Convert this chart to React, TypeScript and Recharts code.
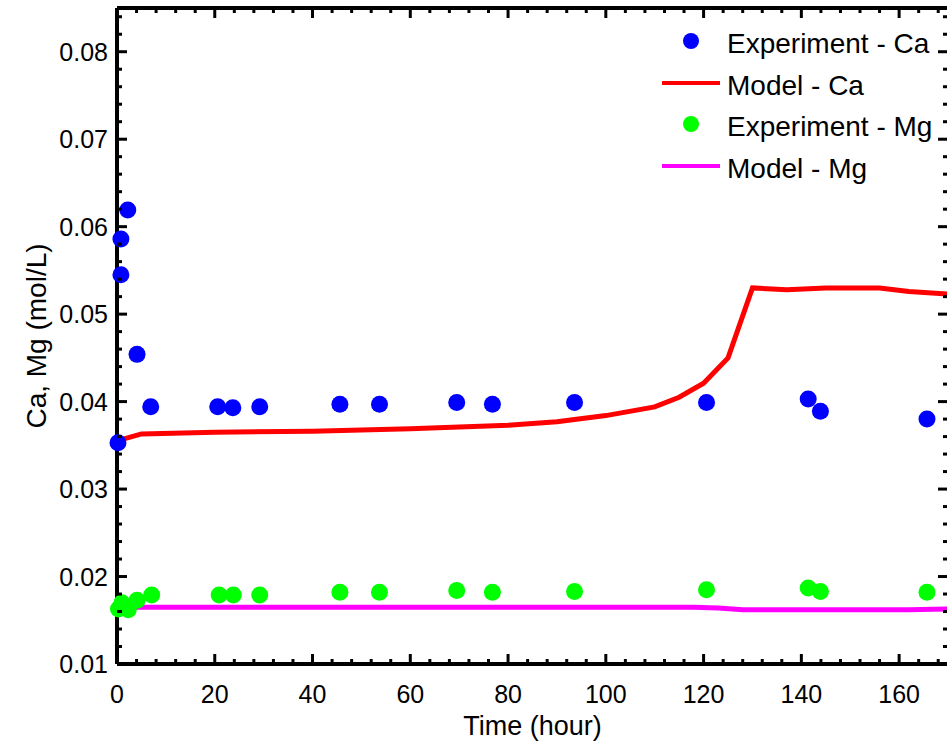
import React from "react";
import { ComposedChart, Scatter, Line, XAxis, YAxis, Legend } from "recharts";

// ---- data ----
const expCaX = [0.2, 0.8, 0.8, 2.2, 4.1, 6.9, 20.6, 23.7, 29.2, 45.6, 53.7, 69.5, 76.8, 93.6, 120.6, 141.4, 143.9, 165.7];
const expCaY = [0.0353, 0.0545, 0.0586, 0.0619, 0.0454, 0.0394, 0.0394, 0.0393, 0.0394, 0.0397, 0.0397, 0.0399, 0.0397, 0.0399, 0.0399, 0.0403, 0.0389, 0.0380];

const expMgX = [0.3, 1.0, 2.3, 4.1, 7.1, 20.9, 23.8, 29.2, 45.6, 53.7, 69.5, 76.8, 93.6, 120.6, 141.4, 143.9, 165.7];
const expMgY = [0.0163, 0.0170, 0.0162, 0.0173, 0.0179, 0.0179, 0.0179, 0.0179, 0.0182, 0.0182, 0.0184, 0.0182, 0.0183, 0.0185, 0.0187, 0.0183, 0.0182];

const modelCaX = [0, 5, 20, 40, 60, 80, 90, 100, 110, 115, 120, 125, 130, 137, 145, 156, 162, 170];
const modelCaY = [0.0355, 0.0363, 0.0365, 0.0366, 0.0369, 0.0373, 0.0377, 0.0384, 0.0394, 0.0405, 0.0421, 0.0450, 0.0530, 0.0528, 0.0530, 0.0530, 0.0526, 0.0523];

const modelMgX = [0, 118, 123, 128, 162, 170];
const modelMgY = [0.0165, 0.0165, 0.0164, 0.0162, 0.0162, 0.0163];

const xMajorTicks = [0, 20, 40, 60, 80, 100, 120, 140, 160];
const xAllTicks = [0, 4, 8, 12, 16, 20, 24, 28, 32, 36, 40, 44, 48, 52, 56, 60, 64, 68, 72, 76, 80, 84, 88, 92, 96, 100, 104, 108, 112, 116, 120, 124, 128, 132, 136, 140, 144, 148, 152, 156, 160, 164, 168];
const yMajorTicks = ["0.01", "0.02", "0.03", "0.04", "0.05", "0.06", "0.07", "0.08"];
const yAllTicks = [0.01, 0.012, 0.014, 0.016, 0.018, 0.02, 0.022, 0.024, 0.026, 0.028, 0.03, 0.032, 0.034, 0.036, 0.038, 0.04, 0.042, 0.044, 0.046, 0.048, 0.05, 0.052, 0.054, 0.056, 0.058, 0.06, 0.062, 0.064, 0.066, 0.068, 0.07, 0.072, 0.074, 0.076, 0.078, 0.08, 0.082, 0.084];

const legendNames = ["Experiment - Ca", "Model - Ca", "Experiment - Mg", "Model - Mg"];
const legendColors = ["#0000FF", "#FF0000", "#00FF00", "#FF00FF"];
const legendKinds = ["dot", "line", "dot", "line"];

const expCa = expCaX.map((x, i) => ({ x, y: expCaY[i] }));
const expMg = expMgX.map((x, i) => ({ x, y: expMgY[i] }));
const modelCa = modelCaX.map((x, i) => ({ x, y: modelCaY[i] }));
const modelMg = modelMgX.map((x, i) => ({ x, y: modelMgY[i] }));

const FONT = "'Liberation Sans', Arial, Helvetica, sans-serif";
const MAJOR = 10;
const MINOR = 5;

const isXMajor = (v: number) => xMajorTicks.includes(v);
const isYMajor = (v: number) => Math.abs(v * 100 - Math.round(v * 100)) < 1e-6 && yMajorTicks.includes(v.toFixed(2));

const BottomTick = (p: any) => {
  const v = p.payload.value;
  const major = isXMajor(v);
  return (
    <g>
      <line x1={p.x} y1={p.y} x2={p.x} y2={p.y - (major ? MAJOR : MINOR)} stroke="#000" strokeWidth={3} />
      {major && (
        <text x={p.x} y={p.y + 39} textAnchor="middle" fontSize={25} fontFamily={FONT} fill="#000">
          {String(v)}
        </text>
      )}
    </g>
  );
};
const TopTick = (p: any) => {
  const major = isXMajor(p.payload.value);
  return <line x1={p.x} y1={p.y} x2={p.x} y2={p.y + (major ? MAJOR : MINOR)} stroke="#000" strokeWidth={3} />;
};
const LeftTick = (p: any) => {
  const v = p.payload.value;
  const major = isYMajor(v);
  return (
    <g>
      <line x1={p.x} y1={p.y} x2={p.x + (major ? MAJOR : MINOR)} y2={p.y} stroke="#000" strokeWidth={3} />
      {major && (
        <text x={p.x - 9} y={p.y + 9} textAnchor="end" fontSize={25} fontFamily={FONT} fill="#000">
          {v.toFixed(2)}
        </text>
      )}
    </g>
  );
};
const RightTick = (p: any) => {
  const major = isYMajor(p.payload.value);
  return <line x1={p.x} y1={p.y} x2={p.x - (major ? MAJOR : MINOR)} y2={p.y} stroke="#000" strokeWidth={3} />;
};

const dot = (color: string) => (p: any) => <circle cx={p.cx} cy={p.cy} r={8.5} fill={color} />;

const LegendBox = () => (
  <div style={{ fontFamily: FONT }}>
    {legendNames.map((n, i) => (
      <div key={n} style={{ display: "flex", alignItems: "center", height: 41.7 }}>
        <svg width={62} height={30} style={{ display: "block" }}>
          {legendKinds[i] === "dot" ? (
            <circle cx={31} cy={12} r={8} fill={legendColors[i]} />
          ) : (
            <line x1={2} y1={12} x2={60} y2={12} stroke={legendColors[i]} strokeWidth={4} />
          )}
        </svg>
        <span style={{ marginLeft: 5, fontSize: 28, color: "#000", lineHeight: "30px" }}>{n}</span>
      </div>
    ))}
  </div>
);

export default function App() {
  return (
    <div style={{ position: "absolute", left: 0, top: 0, width: 947, height: 743, overflow: "hidden", background: "#fff" }}>
      <ComposedChart width={952} height={743} margin={{ top: 7, right: 3, bottom: 78, left: 116 }}>
        <XAxis
          xAxisId="b"
          type="number"
          dataKey="x"
          orientation="bottom"
          domain={[0, 170]}
          ticks={xAllTicks}
          interval={0}
          tickLine={false}
          tickSize={0}
          tickMargin={0}
          height={1}
          axisLine={{ stroke: "#000", strokeWidth: 4 }}
          tick={BottomTick}
          label={(lp: any) => {
            const vb = lp.viewBox || {};
            return (
              <text x={vb.x + vb.width / 2} y={vb.y + 71} textAnchor="middle" fontSize={27} fontFamily={FONT} fill="#000">
                Time (hour)
              </text>
            );
          }}
        />
        <XAxis
          xAxisId="t"
          type="number"
          dataKey="x"
          orientation="top"
          domain={[0, 170]}
          allowDataOverflow
          ticks={xAllTicks}
          interval={0}
          tickLine={false}
          tickSize={0}
          tickMargin={0}
          height={1}
          axisLine={{ stroke: "#000", strokeWidth: 4 }}
          tick={TopTick}
        />
        <YAxis
          yAxisId="l"
          type="number"
          dataKey="y"
          orientation="left"
          domain={[0.01, 0.085]}
          ticks={yAllTicks}
          interval={0}
          tickLine={false}
          tickSize={0}
          tickMargin={0}
          width={1}
          axisLine={{ stroke: "#000", strokeWidth: 4 }}
          tick={LeftTick}
          label={(lp: any) => {
            const vb = lp.viewBox || {};
            const cx = vb.x - 70;
            const cy = vb.y + vb.height / 2;
            return (
              <text x={cx} y={cy} transform={`rotate(-90, ${cx}, ${cy})`} textAnchor="middle" fontSize={28} fontFamily={FONT} fill="#000">
                Ca, Mg (mol/L)
              </text>
            );
          }}
        />
        <YAxis
          yAxisId="r"
          type="number"
          dataKey="y"
          orientation="right"
          domain={[0.01, 0.085]}
          allowDataOverflow
          ticks={yAllTicks}
          interval={0}
          tickLine={false}
          tickSize={0}
          tickMargin={0}
          width={1}
          axisLine={false}
          tick={RightTick}
        />
        <Legend
          layout="vertical"
          align="center"
          verticalAlign="middle"
          wrapperStyle={{ left: 660, top: 23, width: 290, height: 170 }}
          content={() => <LegendBox />}
        />
        <Scatter name="Experiment - Ca" data={expCa} xAxisId="b" yAxisId="l" dataKey="y" fill="#0000FF" shape={dot("#0000FF")} isAnimationActive={false} />
        <Line name="Model - Ca" data={modelCa} xAxisId="b" yAxisId="l" dataKey="y" type="linear" stroke="#FF0000" strokeWidth={5} dot={false} activeDot={false} isAnimationActive={false} />
        <Scatter name="Experiment - Mg" data={expMg} xAxisId="b" yAxisId="l" dataKey="y" fill="#00FF00" shape={dot("#00FF00")} isAnimationActive={false} />
        <Line name="Model - Mg" data={modelMg} xAxisId="b" yAxisId="l" dataKey="y" type="linear" stroke="#FF00FF" strokeWidth={5} dot={false} activeDot={false} isAnimationActive={false} />
      </ComposedChart>
    </div>
  );
}
